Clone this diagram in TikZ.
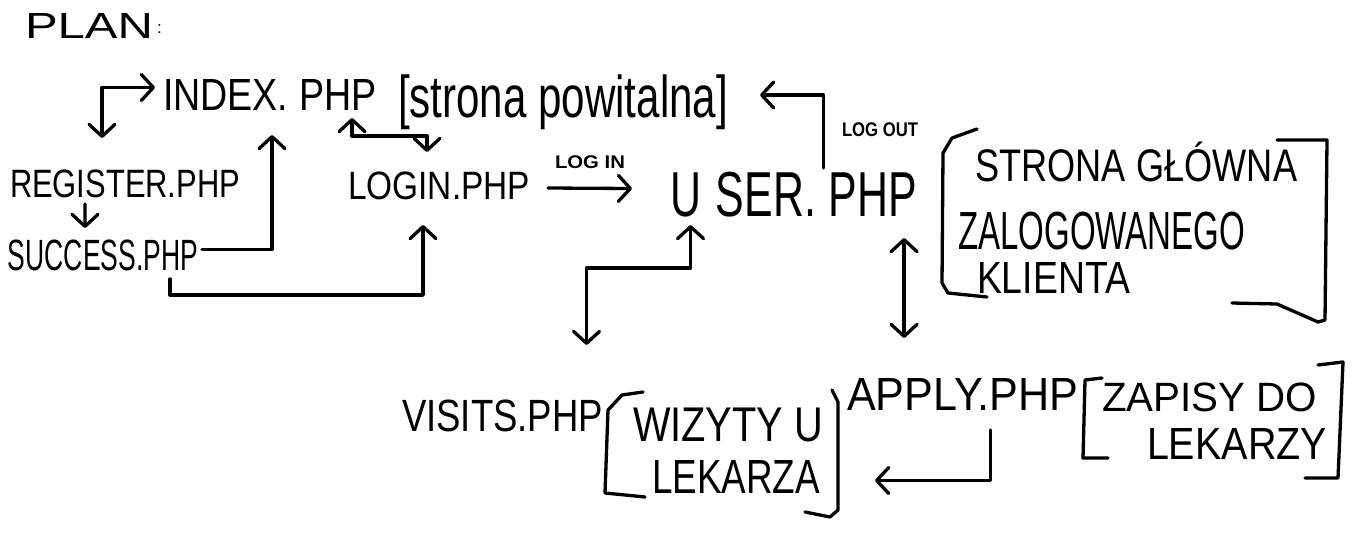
\documentclass[tikz,border=0pt]{standalone}
\usepackage{fontspec}
\setmainfont{Liberation Sans}
\usepackage{graphicx}
\usetikzlibrary{arrows.meta,calc}
\newcommand{\hw}[3]{\resizebox*{#1pt}{#2pt}{#3}}
\begin{document}
\begin{tikzpicture}[x=1pt,y=-1pt,
  txt/.style={inner sep=0pt, outer sep=0pt, anchor=north west},
  conn/.style={line width=3.3pt, line join=round, line cap=round},
  >={Straight Barb[length=12pt,width=26pt,round]}]
\fill[white] (0,0) rectangle (1359,554);
\useasboundingbox (0,0) rectangle (1359,554);

% texts
\node[txt] (plan) at (25,13) {\hw{128}{25}{PLAN}\kern4pt\raisebox{5pt}{\fontsize{17}{17}\selectfont :}};
\node[txt] (index) at (163,79) {\hw{214}{31}{INDEX.\kern0.3em PHP}};
\node[txt] (indexnote) at (398,75) {\hw{330}{55}{[strona powitalna]}};
\node[txt] (register) at (10,170) {\hw{230}{28}{REGISTER.PHP}};
\node[txt] (success) at (8,240) {\hw{190}{31}{SUCCESS.PHP}};
\node[txt] (login) at (348,172) {\hw{182}{28}{LOGIN.PHP}};
\node[txt] (user) at (670,172) {\hw{247}{45}{U\kern0.35em SER.\kern0.3em PHP}};
\node[txt] (logoutlbl) at (842,123) {\hw{76}{14}{\bfseries LOG OUT}};
\node[txt] (ustrona) at (975,142) {\hw{322}{40}{STRONA\kern0.3em GŁÓWNA}};
\node[txt] (uzalog) at (958,212) {\hw{287}{38}{ZALOGOWANEGO}};
\node[txt] (uklienta) at (977,262) {\hw{153}{31}{KLIENTA}};
\node[txt] (visits) at (402,400) {\hw{201}{32}{VISITS.PHP}};
\node[txt] (vwizyty) at (633,408) {\hw{190}{34}{WIZYTY U}};
\node[txt] (vlekarza) at (652,460) {\hw{168}{33}{LEKARZA}};
\node[txt] (apply) at (847,378) {\hw{231}{32}{APPLY.PHP}};
\node[txt] (azapisy) at (1102,383) {\hw{215}{29}{ZAPISY DO}};
\node[txt] (alekarzy) at (1147,428) {\hw{180}{31}{LEKARZY}};

% brackets
\draw[conn] (977,129) -- (952,138) -- (943,153) -- (942,283) -- (948,293) -- (987,297);
\draw[conn] (1277,140) -- (1327,140) -- (1325,320) -- (1318,322) -- (1277,304) -- (1232,303);
\draw[conn] (643,392) -- (622,395) -- (608,410) -- (605,493) -- (645,497);
\draw[conn] (832,390) -- (838,402) -- (838,510) -- (830,517) -- (805,512);
\draw[conn] (1102,378) -- (1085,380) -- (1083,458) -- (1108,458);
\draw[conn] (1318,365) -- (1343,362) -- (1338,478) -- (1305,478);

% connectors
\coordinate (ua) at ([xshift=-13pt,yshift=-21pt]user.south east);
\coordinate (ab) at ([xshift=-60pt,yshift=40pt]apply.north);
\draw[conn,<->] ([xshift=-8pt,yshift=7pt]index.west) -| ([xshift=-23pt,yshift=32pt]register.north);
\draw[conn,->] ([xshift=-40pt,yshift=-6pt]register.south) -- ([xshift=-18pt,yshift=12pt]success.north);
\draw[conn,->] ([xshift=4pt,yshift=6pt]success.east) -| ([xshift=109pt,yshift=-25pt]index.south west);
\draw[conn,->] ([xshift=-28pt,yshift=-8pt]success.south east) -- ++(0,16) -| ([xshift=-16pt,yshift=-25pt]login.south);
\draw[conn,<->] ([xshift=189pt,yshift=-8pt]index.south west) -- ++(0,18) -| ([xshift=-12pt,yshift=20pt]login.north);
\draw[conn,->] ([xshift=18pt,yshift=-2pt]login.east) -- node[inner sep=0pt, above=18pt] (loginlbl) {\hw{70}{13}{\bfseries LOG IN}} ([xshift=-38pt,yshift=6pt]user.west);
\draw[conn,->] ([xshift=30pt,yshift=4pt]user.north) |- ([xshift=32pt,yshift=7.5pt]indexnote.east);
\draw[conn,<->] ([xshift=-103pt,yshift=-8pt]user.south) -- ++(0,43) -| ([xshift=84pt,yshift=55pt]visits.north);
\draw[conn,<->] (ua) -- (ua |- ab);
\draw[conn,->] ([xshift=28pt,yshift=-20pt]apply.south) |- ([xshift=55pt,yshift=-4pt]vlekarza.east);
\end{tikzpicture}
\end{document}
